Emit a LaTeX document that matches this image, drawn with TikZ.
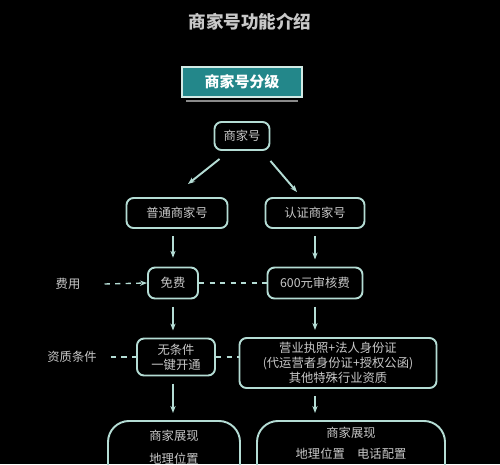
\documentclass[tikz,border=0pt]{standalone}
\usepackage{fontspec}
\setmainfont{Noto Sans CJK SC}
\usetikzlibrary{arrows.meta,calc}
\definecolor{bgblack}{HTML}{000000}
\definecolor{lnteal}{HTML}{B4DCD4}
\definecolor{txgray}{HTML}{C8C8C8}
\definecolor{hdteal}{HTML}{23878A}
\definecolor{dkgray}{HTML}{8A8A8A}

\begin{document}
\begin{tikzpicture}[>={Stealth[length=4pt,width=3pt]},x=0.02cm,y=-0.02cm,
    box/.style={draw=lnteal,line width=1.1pt,rounded corners=4pt,
      text=txgray,font=\fontsize{7}{8.5}\selectfont,align=center,inner sep=0pt},
    lbl/.style={text=txgray,font=\fontsize{7}{8.5}\selectfont},
    arr/.style={lnteal,line width=1.1pt,->},
    dsh/.style={lnteal,line width=0.8pt,dashed}]

  \def\u{0.02cm} % one pixel of the reference

  % background and frame
  \fill[bgblack] (0,0) rectangle (500,464);
  \useasboundingbox (0,0) rectangle (500,464);
  \clip (0,0) rectangle (500,464);

  % =====================================================================
  % TITLE AND HEADER
  % =====================================================================
  \node[text=txgray,font=\fontsize{10}{12}\selectfont\bfseries] (title)
        at (250,22) {商家号功能介绍};

  \node[fill=hdteal,draw=lnteal!60,line width=0.6pt,
        minimum width=120*\u,minimum height=30*\u,
        text=white,font=\fontsize{8.5}{10}\selectfont\bfseries] (head)
        at (242,82) {商家号分级};
  \draw[dkgray,line width=0.8pt] (186,101) -- (298,101);

  % =====================================================================
  % TREE: 商家号 -> two levels
  % =====================================================================
  \node[box,minimum width=55*\u,minimum height=28*\u] (jia) at (242,136) {商家号};

  \node[box,minimum width=101*\u,minimum height=30*\u] (pt) at (177,213) {普通商家号};
  \node[box,minimum width=99*\u,minimum height=30*\u]  (rz) at (315,213) {认证商家号};

  \draw[arr] ($(jia.south west)+(6,8)$) -- ($(pt.north)+(11,-13)$);
  \draw[arr] ($(jia.south east)+(0,10)$) -- ($(rz.north)+(-18,-5)$);

  % =====================================================================
  % ROW: 费用
  % =====================================================================
  \node[lbl] (fy) at (68,284) {费用};
  \node[box,minimum width=50*\u,minimum height=31*\u] (mf) at (173,283) {免费};
  \node[box,minimum width=95*\u,minimum height=31*\u] (rf) at (315,283) {600元审核费};

  \draw[arr,shorten <=4pt,shorten >=5pt] (pt.south -| mf.north) -- (mf.north);
  \draw[arr,shorten <=4pt,shorten >=4pt] (rz) -- (rf);
  \draw[dsh,->] (fy.east) ++(18,0) -- (mf.west);
  \draw[dsh] (mf.east) -- (rf.west);

  % =====================================================================
  % ROW: 资质条件
  % =====================================================================
  \node[lbl] (zz) at (72,357) {资质条件};
  \node[box,minimum width=78*\u,minimum height=37*\u] (wt) at (176,357)
        {无条件\\一键开通};
  \node[box,minimum width=197*\u,minimum height=50*\u] (yz) at (338,363)
        {营业执照+法人身份证\\(代运营者身份证+授权公函)\\其他特殊行业资质};

  \draw[arr,shorten <=4pt,shorten >=4pt] (mf.south) -- (wt.north -| mf.south);
  \draw[arr,shorten <=4pt,shorten >=4pt] (rf.south) -- (yz.north -| rf.south);
  \draw[dsh] (zz.east) ++(8,0) -- (wt.west);
  \draw[dsh] (wt.east) -- (wt.east -| yz.west);

  % =====================================================================
  % ROW: 商家展现 (cut at bottom edge)
  % =====================================================================
  \node[box,rounded corners=12pt,minimum width=132*\u,anchor=north,
        inner ysep=5pt,text depth=30pt] (zl) at (174,420)
        {商家展现\\[4.5pt]地理位置};
  \node[box,rounded corners=12pt,minimum width=188*\u,anchor=north,
        inner ysep=3.5pt,text depth=30pt] (zr) at (351,420)
        {商家展现\\[3.5pt]地理位置\quad 电话配置};

  \draw[arr,shorten <=4pt,shorten >=4pt] (wt.south -| mf.south) -- (zl.north -| mf.south);
  \draw[arr,shorten <=4pt,shorten >=4pt] (yz.south -| rf.south) -- (zr.north -| rf.south);

\end{tikzpicture}
\end{document}
